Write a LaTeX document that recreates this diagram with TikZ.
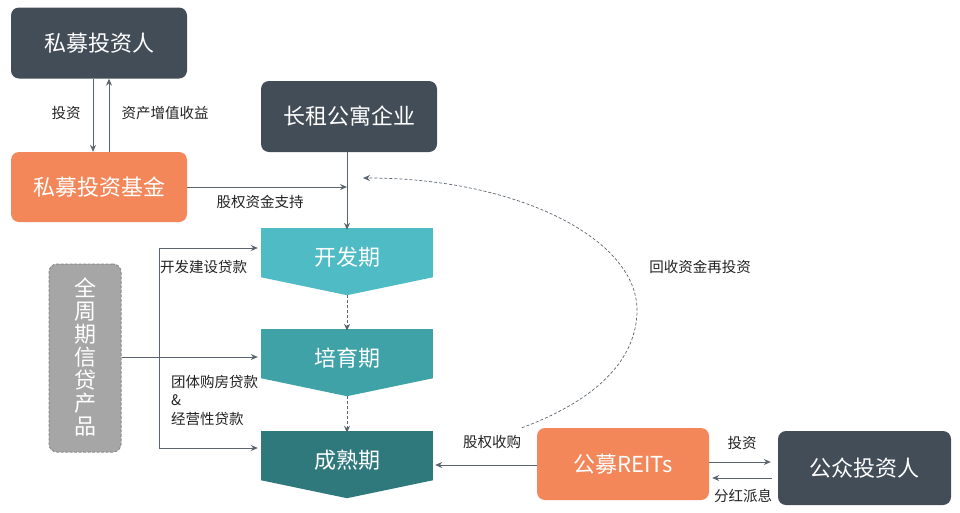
\documentclass[tikz,border=0pt]{standalone}
\usepackage{fontspec}
\setmainfont{Noto Sans CJK SC}
\usetikzlibrary{arrows.meta,calc}
\definecolor{darkbox}{HTML}{434D58}
\definecolor{orangebox}{HTML}{F3875A}
\definecolor{stageA}{HTML}{4EBBC5}
\definecolor{stageB}{HTML}{3FA2A7}
\definecolor{stageC}{HTML}{2F797C}
\definecolor{greybox}{HTML}{A6A6A6}
\definecolor{greyedge}{HTML}{8C8C8C}
\definecolor{linec}{HTML}{5A6570}
\definecolor{labc}{HTML}{222222}
\tikzset{
  box/.style={rounded corners=8pt, minimum width=176pt, minimum height=71pt, inner sep=0pt,
    text=white, font=\fontsize{22}{26}\selectfont},
  darkb/.style={box, fill=darkbox},
  orangeb/.style={box, fill=orangebox},
  stagebox/.style={minimum width=172pt, minimum height=49pt, inner sep=0pt},
  stagetext/.style={text=white, font=\fontsize{22}{26}\selectfont, inner sep=0pt},
  lab/.style={text=labc, font=\fontsize{14.5}{18.5}\selectfont, inner sep=0pt},
  arr/.style={draw=linec, line width=0.9pt, -{Stealth[length=7pt,width=6pt]}},
  darr/.style={arr, dashed, dash pattern=on 3pt off 2pt}
}
\begin{document}
\begin{tikzpicture}[x=1pt,y=-1pt]
\useasboundingbox (0,0) rectangle (960,512);
% boxes
\node[darkb] (pinv) at (99,43) {私募投资人};
\node[orangeb, minimum height=70pt] (fund) at (99,187) {私募投资基金};
\node[darkb] (apt) at (349,116.5) {长租公寓企业};
\node[orangeb, minimum width=172pt, minimum height=72pt] (reits) at (623,464) {公募REITs};
\node[darkb, minimum width=173pt, minimum height=74pt] (pub) at (864.5,468) {公众投资人};
% credit product
\node[rounded corners=8pt, fill=greybox, draw=greyedge, dashed, dash pattern=on 3pt off 1.5pt,
  line width=1pt, minimum width=72pt, minimum height=188pt, inner sep=0pt] (credit) at (85,358) {};
\node[text=white, font=\fontsize{22}{23}\selectfont, align=center, inner sep=0pt] at (85,357)
  {全\\周\\期\\信\\贷\\产\\品};
% stages
\node[stagebox, fill=stageA] (dev) at (347,252.5) {};
\fill[stageA] (dev.south west) -- (dev.south east) -- ($(dev.south)+(0,18)$) -- cycle;
\coordinate (devtip) at ($(dev.south)+(0,18)$);
\node[stagetext] at (347,257) {开发期};
\node[stagebox, fill=stageB] (cul) at (347,353.5) {};
\fill[stageB] (cul.south west) -- (cul.south east) -- ($(cul.south)+(0,18)$) -- cycle;
\coordinate (cultip) at ($(cul.south)+(0,18)$);
\node[stagetext] at (347,358) {培育期};
\node[stagebox, fill=stageC] (mat) at (347,455.5) {};
\fill[stageC] (mat.south west) -- (mat.south east) -- ($(mat.south)+(0,18)$) -- cycle;
\node[stagetext] at (347,460) {成熟期};
% private investor <-> fund
\draw[arr] ([xshift=-6pt]pinv.south) -- ([xshift=-6pt]fund.north);
\draw[arr] ([xshift=10pt]fund.north) -- ([xshift=10pt]pinv.south);
\node[lab] at (66,113) {投资};
\node[lab] at (165,113) {资产增值收益};
% fund -> apt line
\draw[arr] (apt.south -| dev.north) -- ([yshift=-2pt]dev.north);
\coordinate (joinpt) at (fund.east -| dev.north);
\draw[arr] (fund.east) -- (joinpt);
\node[lab] at (260,202) {股权资金支持};
% stage dashed arrows
\draw[darr] (devtip) -- ([yshift=-2pt]cul.north);
\draw[darr] (cultip) -- ([yshift=-2pt]mat.north);
% credit lines
\coordinate (vtop) at (159,248);
\coordinate (vbot) at (159,448);
\draw[arr] (credit.east |- 0,357) -- ([xshift=-3pt]cul.west |- 0,357);
\draw[arr] (vbot |- 0,357) -- (vtop) -- ([xshift=-3pt]dev.west |- vtop);
\draw[arr] (vbot |- 0,357) -- (vbot) -- ([xshift=-3pt]mat.west |- vbot);
\node[lab, anchor=west] at (160,267) {开发建设贷款};
\node[lab, anchor=north west, align=left, font=\fontsize{14.5}{18.5}\selectfont] at (171,375) {团体购房贷款\\\&\\经营性贷款};
% REITs
\draw[arr] (reits.west |- 0,465) -- ([xshift=2pt]mat.east |- 0,465);
\node[lab] at (492,442) {股权收购};
\draw[arr] (reits.east |- 0,462) -- ([xshift=-7pt]pub.west |- 0,462);
\draw[arr] ([xshift=-6pt]pub.west |- 0,478) -- ([xshift=3pt]reits.east |- 0,478);
\node[lab] at (742,443) {投资};
\node[lab] at (743,496) {分红派息};
% recycle curve
\coordinate (recstart) at ($(reits.north west)+(-15,0)$);
\coordinate (recend) at (363,178);
\draw[darr, line width=0.7pt] (recstart) .. controls (610,395) and (637,350) .. (637,310)
  .. controls (637,240) and (520,178) .. (recend);
\node[lab] at (700,267) {回收资金再投资};
\end{tikzpicture}
\end{document}
